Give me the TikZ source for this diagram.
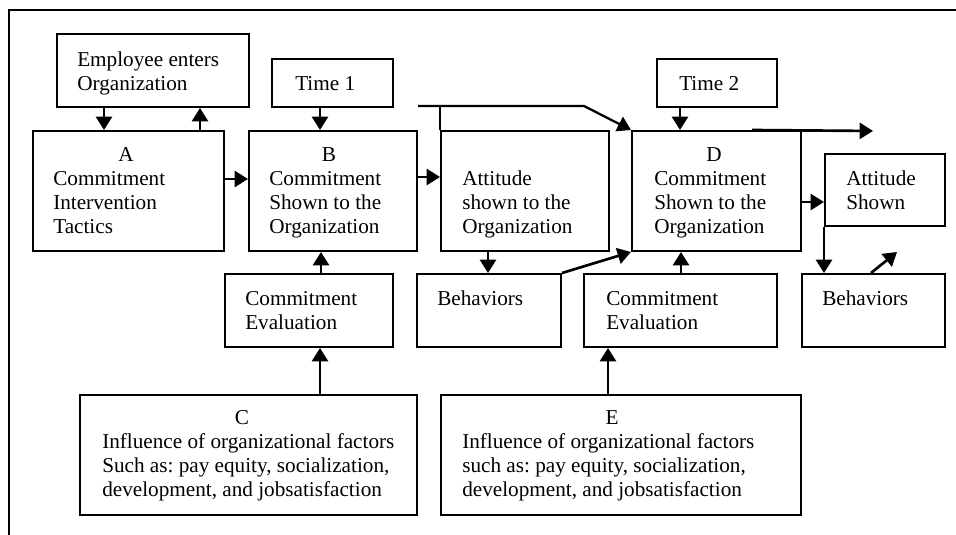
\documentclass[tikz,border=0pt]{standalone}
\usepackage{fontspec}
\setmainfont{Liberation Serif}
\usetikzlibrary{arrows.meta,calc,fit}
% left-aligned block of lines whose baseline is the first line
\newcommand{\txtlines}[1]{\begin{tabular}[t]{@{}l@{}}#1\end{tabular}}
\frenchspacing
\begin{document}
\begin{tikzpicture}[x=0.75pt,y=-0.75pt,
  box/.style={draw, line width=1.5pt, inner sep=0pt},
  txt/.style={anchor=base west, inner sep=0pt, font=\fontsize{15.9}{18}\selectfont\frenchspacing},
  ltr/.style={anchor=base, inner sep=0pt, font=\fontsize{15.9}{18}\selectfont},
  arr/.style={line width=2pt, -{Triangle[length=10pt,width=12pt]}},
  link/.style={line width=1.5pt},
  linkarr/.style={line width=1.7pt, -{Triangle[length=10pt,width=12pt]}}
]
\useasboundingbox (0,0) rectangle (956,535);

% page frame
\draw[line width=1.6pt] (9,535) -- (9,10) -- (956,10);

% boxes
\node[box, fit={(57,34) (249,107)}]   (emp)  {};
\node[box, fit={(33,131) (224,251)}]  (A)    {};
\node[box, fit={(272,59) (393,107)}]  (t1)   {};
\node[box, fit={(249,131) (417,251)}] (B)    {};
\node[box, fit={(441,131) (609,251)}] (att)  {};
\node[box, fit={(632,131) (801,251)}] (D)    {};
\node[box, fit={(657,59) (777,107)}]  (t2)   {};
\node[box, fit={(825,154) (945,226)}] (attS) {};
\node[box, fit={(225,274) (393,347)}] (ce1)  {};
\node[box, fit={(417,274) (561,347)}] (beh1) {};
\node[box, fit={(584,274) (777,347)}] (ce2)  {};
\node[box, fit={(802,274) (945,347)}] (beh2) {};
\node[box, fit={(80,395) (417,515)}]  (C)    {};
\node[box, fit={(441,395) (801,515)}] (E)    {};

% texts
\node[txt] (tEmp) at (77,66) {\txtlines{Employee enters\\Organization}};
\node[ltr] (lA) at (126,161) {A};
\node[txt] (tA) at (53,185) {\txtlines{Commitment\\Intervention\\Tactics}};
\node[txt] (tT1) at (295,90) {Time 1};
\node[ltr] (lB) at (329,161) {B};
\node[txt] (tB) at (269,185) {\txtlines{Commitment\\Shown to the\\Organization}};
\node[txt] (tAtt) at (462,185) {\txtlines{Attitude\\shown to the\\Organization}};
\node[txt] (tT2) at (679,90) {Time 2};
\node[ltr] (lD) at (714,161) {D};
\node[txt] (tD) at (654,185) {\txtlines{Commitment\\Shown to the\\Organization}};
\node[txt] (tAttS) at (846,185) {\txtlines{Attitude\\Shown}};
\node[txt] (tCe1) at (245,305) {\txtlines{Commitment\\Evaluation}};
\node[txt] (tBeh1) at (437,305) {Behaviors};
\node[txt] (tCe2) at (606,305) {\txtlines{Commitment\\Evaluation}};
\node[txt] (tBeh2) at (822,305) {Behaviors};
\node[ltr] (lC) at (242,424) {C};
\node[txt] (tC) at (102,448) {\txtlines{Influence of organizational factors\\Such as: pay equity, socialization,\\development, and jobsatisfaction}};
\node[ltr] (lE) at (612,424) {E};
\node[txt] (tE) at (462,448) {\txtlines{Influence of organizational factors\\such as: pay equity, socialization,\\development, and jobsatisfaction}};

% connectors
\draw[arr] ($(emp.south west)+(48,0)$) -- ($(A.north west)+(72,0)$);
\draw[arr] ($(A.north west)+(168,0)$) -- ($(emp.south west)+(144,0)$);
\draw[arr] ($(A.north east)+(0,49)$) -- ($(B.north west)+(0,49)$);
\draw[arr] ($(t1.south west)+(49,0)$) -- ($(B.north west)+(72,0)$);
\draw[arr] ($(B.north east)+(0,47)$) -- ($(att.north west)+(0,47)$);
\draw[link] (att.north west) -- ($(att.north west)+(0,-24)$);
\draw[linkarr] ($(B.north east)+(0,-24)$) -- ($(att.north west)+(144,-24)$) -- (D.north west);
\draw[arr] ($(att.south west)+(48,0)$) -- ($(beh1.north west)+(72,0)$);
\draw[arr] (beh1.north east) -- (D.south west);
\draw[arr] ($(ce1.north west)+(97,0)$) -- ($(B.south west)+(73,0)$);
\draw[arr] ($(C.north west)+(241,0)$) -- ($(ce1.south west)+(96,0)$);
\draw[arr] ($(t2.south west)+(24,0)$) -- ($(D.north west)+(49,0)$);
\draw[arr] ($(ce2.north west)+(98,0)$) -- ($(D.south west)+(50,0)$);
\draw[arr] ($(E.north west)+(168,0)$) -- ($(ce2.south west)+(25,0)$);
\coordinate (dOut) at (873,131);
\draw[arr] ($(D.north west)+(121,0)$) -- (dOut);
\draw[arr] ($(D.north east)+(0,72)$) -- ($(attS.north west)+(0,49)$);
\draw[arr] (attS.south west) -- ($(beh2.north west)+(23,0)$);
\coordinate (bOut) at (897,252);
\draw[arr] ($(beh2.north west)+(70,0)$) -- (bOut);
\end{tikzpicture}
\end{document}
